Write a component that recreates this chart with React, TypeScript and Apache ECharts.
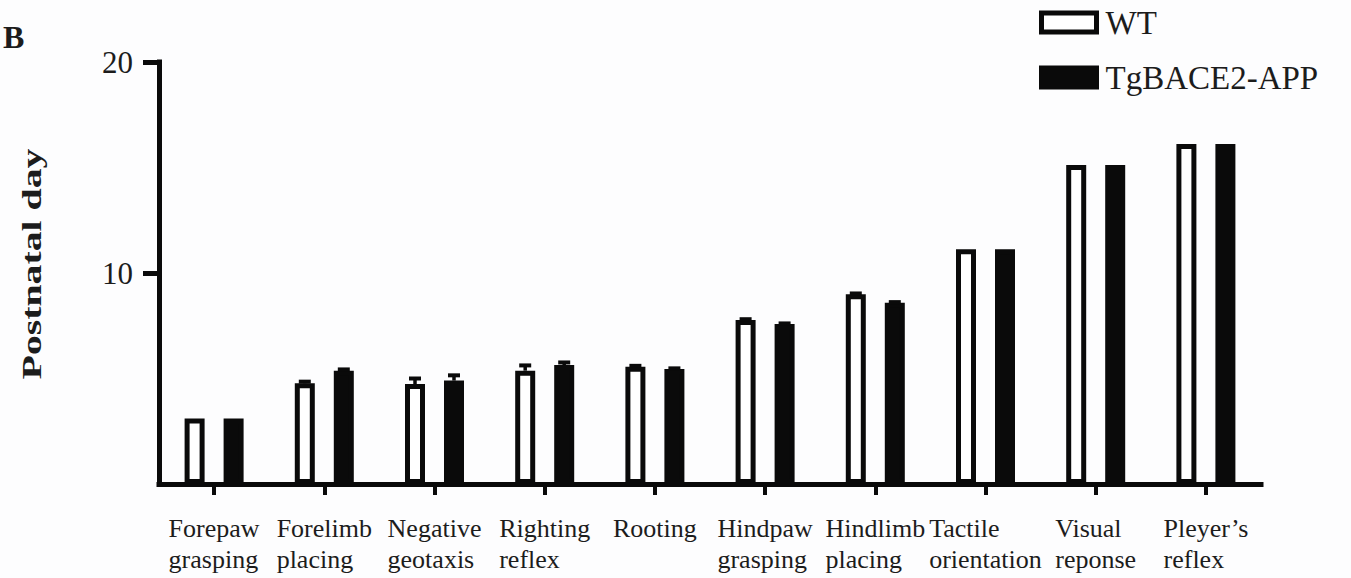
import React, { useEffect, useRef } from "react";
import * as echarts from "echarts";

// Developmental milestones: postnatal day at which each reflex appears
const categories = [
  "Forepaw\ngrasping",
  "Forelimb\nplacing",
  "Negative\ngeotaxis",
  "Righting\nreflex",
  "Rooting",
  "Hindpaw\ngrasping",
  "Hindlimb\nplacing",
  "Tactile\norientation",
  "Visual\nreponse",
  "Pleyer\u2019s\nreflex",
];
const seriesNames = ["WT", "TgBACE2-APP"];
const wtValues = [3.11, 4.77, 4.74, 5.37, 5.56, 7.77, 8.99, 11.12, 15.12, 16.11];
const wtErrors = [0, 0.08, 0.26, 0.25, 0.04, 0.04, 0.04, 0, 0, 0];
const tgValues = [3.11, 5.37, 4.9, 5.64, 5.45, 7.58, 8.59, 11.12, 15.12, 16.11];
const tgErrors = [0, 0.06, 0.25, 0.12, 0.03, 0.03, 0.03, 0, 0, 0];
const yTickValues = [10, 20];
const yMin = 0;
const yMax = 20;
const yStep = 10;

const SERIF = "'Liberation Serif', 'Times New Roman', serif";
const INK = "#0a0a0a";
const TEXT = "#1c1c1c";
const BAR_WIDTH = 20;
const BAR_GAP = 0.95; // fraction of bar width
const BORDER = 5;

// horizontal offset of each bar's centre from its category centre
const halfSpan = (BAR_WIDTH + BAR_WIDTH * BAR_GAP) / 2;

function errorSeries(values: number[], errors: number[], offset: number) {
  return {
    type: "custom",
    silent: true,
    z: 3,
    encode: { x: 0, y: 1 },
    data: values.map((v, i) => [i, v, errors[i]]),
    renderItem: (_params: any, api: any) => {
      const idx = api.value(0);
      const v = api.value(1);
      const e = api.value(2);
      if (!e) return { type: "group", children: [] };
      const base = api.coord([idx, v]);
      const top = api.coord([idx, v + e]);
      const x = base[0] + offset;
      return {
        type: "group",
        children: [
          {
            type: "line",
            shape: { x1: x, y1: base[1], x2: x, y2: top[1] },
            style: { stroke: INK, lineWidth: 3.5 },
          },
          {
            type: "line",
            shape: { x1: x - 6, y1: top[1], x2: x + 6, y2: top[1] },
            style: { stroke: INK, lineWidth: 4 },
          },
        ],
      };
    },
  };
}

export default function App() {
  const ref = useRef<HTMLDivElement>(null);

  useEffect(() => {
    if (!ref.current) return;
    const chart = echarts.init(ref.current, undefined, { renderer: "svg" });

    const wtStyle = { color: "#ffffff", borderColor: INK, borderWidth: BORDER };
    const tgStyle = { color: INK, borderColor: INK, borderWidth: BORDER };

    chart.setOption({
      animation: false,
      backgroundColor: "#fdfdfe",
      grid: { left: 159, right: 90, top: 62, bottom: 94, containLabel: false },
      legend: {
        orient: "vertical",
        left: 1039,
        top: 6,
        padding: 0,
        itemWidth: 55,
        itemHeight: 19,
        itemGap: 22,
        icon: "rect",
        selectedMode: false,
        textStyle: {
          fontFamily: SERIF,
          fontSize: 33,
          lineHeight: 30,
          color: TEXT,
          padding: [0, 0, 0, 4],
        },
        data: [
          { name: seriesNames[0], itemStyle: wtStyle },
          { name: seriesNames[1], itemStyle: tgStyle },
        ],
      },
      xAxis: {
        type: "category",
        data: categories,
        axisLine: { show: true, lineStyle: { color: INK, width: 5, cap: "square" } },
        axisTick: { show: true, alignWithLabel: true, length: 11, lineStyle: { color: INK, width: 4 } },
        axisLabel: {
          interval: 0,
          color: TEXT,
          align: "center",
          margin: 29,
          // centred block, each line flush left inside it
          formatter: (v: string) =>
            v
              .split("\n")
              .map((line) => `{l|${line}}`)
              .join("\n"),
          rich: {
            l: {
              fontFamily: SERIF,
              fontSize: 26,
              lineHeight: 31,
              color: TEXT,
              align: "left",
            },
          },
        },
        splitLine: { show: false },
      },
      yAxis: {
        type: "value",
        min: yMin,
        max: yMax,
        interval: yStep,
        axisLine: { show: true, lineStyle: { color: INK, width: 5, cap: "square" } },
        axisTick: { show: true, length: 16, customValues: yTickValues, lineStyle: { color: INK, width: 5 } },
        axisLabel: {
          customValues: yTickValues,
          fontFamily: SERIF,
          fontSize: 31,
          color: TEXT,
          margin: 26,
        },
        splitLine: { show: false },
      },
      graphic: [
        {
          type: "text",
          x: 3,
          y: 21,
          style: {
            text: "B",
            fontFamily: SERIF,
            fontWeight: "bold",
            fontSize: 32,
            fill: TEXT,
            align: "left",
            verticalAlign: "top",
          },
        },
        {
          type: "text",
          x: 31,
          y: 264,
          rotation: Math.PI / 2,
          scaleX: 1.42,
          style: {
            text: "Postnatal day",
            fontFamily: SERIF,
            fontWeight: "bold",
            fontSize: 28,
            fill: TEXT,
            align: "center",
            verticalAlign: "middle",
          },
        },
      ],
      series: [
        {
          name: seriesNames[0],
          type: "bar",
          data: wtValues,
          barWidth: BAR_WIDTH,
          barGap: `${BAR_GAP * 100}%`,
          itemStyle: wtStyle,
          z: 2,
        },
        {
          name: seriesNames[1],
          type: "bar",
          data: tgValues,
          barWidth: BAR_WIDTH,
          barGap: `${BAR_GAP * 100}%`,
          itemStyle: tgStyle,
          z: 2,
        },
        errorSeries(wtValues, wtErrors, -halfSpan),
        errorSeries(tgValues, tgErrors, halfSpan),
      ],
    });

    return () => chart.dispose();
  }, []);

  return (
    <div
      ref={ref}
      style={{ position: "fixed", left: 0, top: 0, width: 1351, height: 578 }}
    />
  );
}
